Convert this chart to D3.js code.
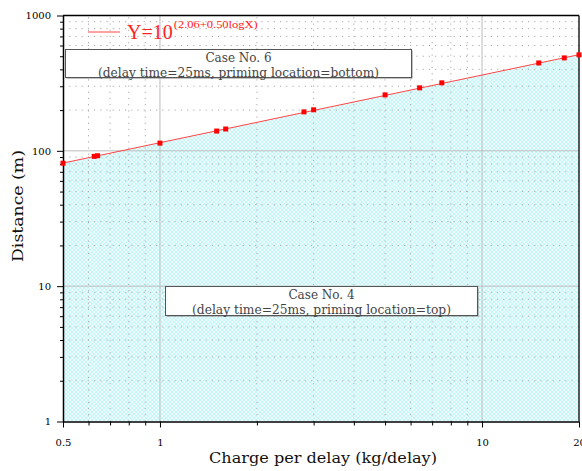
<!DOCTYPE html>
<html>
<head>
<meta charset="utf-8">
<script src="https://cdn.jsdelivr.net/npm/d3@7"></script>
<style>
  body { margin: 0; background: #fff; }
  svg { display: block; }
</style>
</head>
<body>
<div id="chart"></div>
<script>

// Measured points (charge per delay, distance)
const charge = [0.5, 0.625, 0.64, 1, 1.5, 1.6, 2.8, 3.0, 5.0, 6.4, 7.5, 15, 18, 20];
const distance = [81, 91, 92, 114, 140, 145, 194, 201, 259, 292, 318, 446, 486, 512];

// Fit: log Y = 2.06 + 0.50 log X
const fitCoef = [2.06, 0.50];
const fitRange = [0.5, 20];

const xTickLabels = [0.5, 1, 10, 20];
const yTickLabels = [1, 10, 100, 1000];

const caseBoxes = [
    { title: "Case No. 6", sub: "(delay time=25ms, priming location=bottom)" },
    { title: "Case No. 4", sub: "(delay time=25ms, priming location=top)" }
];

// Set the dimensions
let width = 582, height = 471;
let margin = { top: 15.5, left: 63, right: 3, bottom: 49.5 };

let svg = d3.select("#chart")
    .append("svg")
    .attr("width", width)
    .attr("height", height)
    .style("font-family", "'DejaVu Serif', 'Liberation Serif', serif");

let x = d3.scaleLog().domain([0.5, 20]).range([margin.left, width - margin.right]);
let y = d3.scaleLog().domain([1, 1000]).range([height - margin.bottom, margin.top]);

// minor ticks for both axes
let xMinor = [0.6, 0.7, 0.8, 0.9];
for (let i = 2; i <= 9; i++) xMinor.push(i);
let yMinor = [];
[1, 10, 100].forEach(b => { for (let i = 2; i <= 9; i++) yMinor.push(b * i); });

// Hatch pattern for the area under the fit
let defs = svg.append("defs");
let pat = defs.append("pattern")
    .attr("id", "hatch")
    .attr("patternUnits", "userSpaceOnUse")
    .attr("width", 4)
    .attr("height", 4);
pat.append("rect").attr("width", 4).attr("height", 4).attr("fill", "#f4feff");
pat.append("path")
    .attr("d", "M0,0 L4,4 M4,0 L0,4")
    .attr("stroke", "#9af1f7")
    .attr("stroke-width", 0.6);

let fitLine = d => Math.pow(10, fitCoef[0] + fitCoef[1] * Math.log10(d));
let fitX = fitRange;

// Area under the line
let area = d3.area()
    .x(d => x(d))
    .y0(y(1))
    .y1(d => y(fitLine(d)));

svg.append("path")
    .datum(fitX)
    .attr("d", area)
    .attr("fill", "url(#hatch)");

// Grid
let grid = svg.append("g");
grid.selectAll(".gx")
    .data(xMinor.filter(d => d !== 1 && d !== 10))
    .enter().append("line")
    .attr("x1", d => x(d)).attr("x2", d => x(d))
    .attr("y1", y(1)).attr("y2", y(1000))
    .attr("stroke", "#aaa")
    .attr("stroke-dasharray", "1.2,5");
grid.selectAll(".gy")
    .data(yMinor)
    .enter().append("line")
    .attr("y1", d => y(d)).attr("y2", d => y(d))
    .attr("x1", x(0.5)).attr("x2", x(20))
    .attr("stroke", "#aaa")
    .attr("stroke-dasharray", "1.2,5");
grid.selectAll(".gxm")
    .data([1, 10])
    .enter().append("line")
    .attr("x1", d => x(d)).attr("x2", d => x(d))
    .attr("y1", y(1)).attr("y2", y(1000))
    .attr("stroke", "#bbb");
grid.selectAll(".gym")
    .data([10, 100])
    .enter().append("line")
    .attr("y1", d => y(d)).attr("y2", d => y(d))
    .attr("x1", x(0.5)).attr("x2", x(20))
    .attr("stroke", "#bbb");

// Axes
let yAxis = d3.axisLeft(y)
    .tickValues(yTickLabels.concat(yMinor))
    .tickFormat(d => yTickLabels.includes(d) ? d : "")
    .tickSizeOuter(0);
let gy = svg.append("g")
    .attr("transform", `translate(${margin.left},0)`)
    .call(yAxis);
gy.selectAll(".tick line")
    .attr("x2", d => yTickLabels.includes(d) ? -6 : -3);

let xAxis = d3.axisBottom(x)
    .tickValues(xTickLabels.concat(xMinor))
    .tickFormat(d => xTickLabels.includes(d) ? d : "")
    .tickSizeOuter(0);
let gx = svg.append("g")
    .attr("transform", `translate(0,${y(1)})`)
    .call(xAxis);
gx.selectAll(".tick line")
    .attr("y2", d => xTickLabels.includes(d) ? 6 : 4);

[gx, gy].forEach(g => {
    g.select(".domain").attr("stroke", "#000").attr("stroke-width", 1.5);
    g.selectAll(".tick line").attr("stroke", "#000");
    g.selectAll("text")
        .attr("font-family", "'DejaVu Serif', serif")
        .attr("font-size", 10)
        .attr("fill", "#000");
});
gx.selectAll("text").attr("dy", "1.55em");
gy.selectAll("text").attr("x", -12);

// top and right border
svg.append("line")
    .attr("x1", x(0.5)).attr("x2", x(20))
    .attr("y1", y(1000)).attr("y2", y(1000))
    .attr("stroke", "#000").attr("stroke-width", 1.5);
svg.append("line")
    .attr("x1", x(20)).attr("x2", x(20))
    .attr("y1", y(1000)).attr("y2", y(1))
    .attr("stroke", "#222").attr("stroke-width", 1.5);

// Fit line
svg.append("path")
    .datum(fitX)
    .attr("d", d3.line().x(d => x(d)).y(d => y(fitLine(d))))
    .attr("fill", "none")
    .attr("stroke", "#f44")
    .attr("stroke-width", 1);

// Points
svg.selectAll(".pt")
    .data(charge)
    .enter().append("rect")
    .attr("x", d => x(d) - 2.5)
    .attr("y", (d, i) => y(distance[i]) - 2.5)
    .attr("width", 5)
    .attr("height", 5)
    .attr("fill", "#f00");

// Text boxes
function caseBox(c, bx, by, bw, bh, subLen) {
    let g = svg.append("g");
    g.append("rect")
        .attr("x", bx + 1).attr("y", by + 1)
        .attr("width", bw).attr("height", bh)
        .attr("fill", "#888");
    g.append("rect")
        .attr("x", bx).attr("y", by)
        .attr("width", bw).attr("height", bh)
        .attr("fill", "#fff")
        .attr("stroke", "#555")
        .attr("stroke-width", 1);
    g.append("text")
        .attr("x", bx + bw / 2)
        .attr("y", by + 12.5)
        .attr("text-anchor", "middle")
        .attr("font-size", 12)
        .attr("fill", "#444")
        .text(c.title);
    g.append("text")
        .attr("x", bx + bw / 2)
        .attr("y", by + 27)
        .attr("text-anchor", "middle")
        .attr("font-size", 12)
        .attr("fill", "#444")
        .attr("textLength", subLen)
        .attr("lengthAdjust", "spacingAndGlyphs")
        .text(c.sub);
}
caseBox(caseBoxes[0], 65.5, 49.5, 346, 28, 281);
caseBox(caseBoxes[1], 165.5, 286.5, 312, 29, 259);

// Legend
svg.append("line")
    .attr("x1", 88).attr("x2", 120)
    .attr("y1", 32).attr("y2", 32)
    .attr("stroke", "#f44");
let leg = svg.append("text")
    .attr("x", 127)
    .attr("y", 39)
    .attr("fill", "#f22")
    .attr("font-family", "'Liberation Serif', serif")
    .attr("font-size", 20);
leg.append("tspan").text("Y=10");
leg.append("tspan")
    .attr("dy", -11)
    .attr("dx", 1)
    .attr("font-size", 9.5)
    .attr("textLength", 84)
    .attr("lengthAdjust", "spacingAndGlyphs")
    .text(`(${fitCoef[0].toFixed(2)}+${fitCoef[1].toFixed(2)}logX)`);

// Axis titles
svg.append("text")
    .attr("x", 323)
    .attr("y", 463)
    .attr("text-anchor", "middle")
    .attr("font-size", 14)
    .attr("textLength", 228)
    .attr("lengthAdjust", "spacingAndGlyphs")
    .attr("fill", "#111")
    .text("Charge per delay (kg/delay)");

svg.append("text")
    .attr("transform", "translate(23,206) rotate(-90)")
    .attr("text-anchor", "middle")
    .attr("font-size", 14)
    .attr("textLength", 112)
    .attr("lengthAdjust", "spacingAndGlyphs")
    .attr("fill", "#111")
    .text("Distance (m)");

</script>
</body>
</html>
